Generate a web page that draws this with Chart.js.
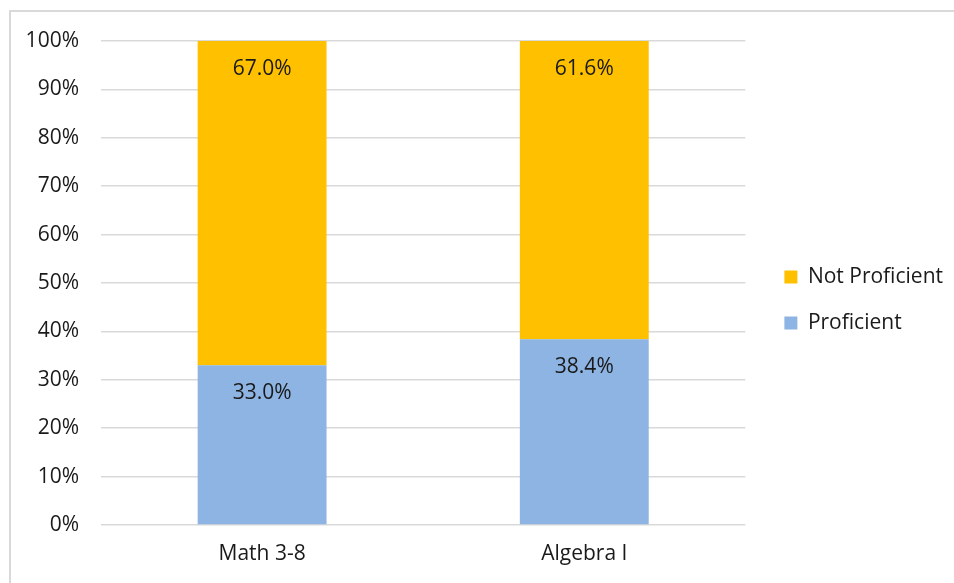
<!DOCTYPE html>
<html lang="en">
<head>
    <meta charset="UTF-8">
    <title>Proficiency</title>
    <script src="https://cdn.jsdelivr.net/npm/chart.js"></script>
    <style>
        html, body {
            margin: 0;
            padding: 0;
            background: #fff;
            overflow: hidden;
        }
        .wrap {
            position: relative;
            width: 954px;
            height: 583px;
        }
        .frame {
            position: absolute;
            left: 9px;
            top: 10px;
            width: 1000px;
            height: 700px;
            border-left: 2px solid #d9d9d9;
            border-top: 2px solid #d9d9d9;
            pointer-events: none;
        }
    </style>
</head>
<body>
<div class="wrap">
    <canvas id="chart" width="954" height="583"></canvas>
    <div class="frame"></div>
</div>

<script>
    // data
    const categories = ['Math 3-8', 'Algebra I'];
    const proficient = [33.0, 38.4];
    const notProficient = [67.0, 61.6];
    const yTicks = [0, 10, 20, 30, 40, 50, 60, 70, 80, 90, 100];

    const FONT = '"Open Sans", "Noto Sans", sans-serif';
    const TEXT = '#1a1a1a';
    const SIZE = 21;

    // labels inside each bar segment, near its top
    const barLabels = {
        id: 'barLabels',
        afterDatasetsDraw(chart) {
            const ctx = chart.ctx;
            ctx.save();
            ctx.font = SIZE + 'px ' + FONT;
            ctx.fillStyle = TEXT;
            ctx.textAlign = 'center';
            ctx.textBaseline = 'middle';
            chart.data.datasets.forEach((ds, i) => {
                chart.getDatasetMeta(i).data.forEach((bar, j) => {
                    ctx.fillText(ds.data[j].toFixed(1) + '%', bar.x, bar.y + 28);
                });
            });
            ctx.restore();
        }
    };

    // push the legend a bit right and up, like the original
    const legendNudge = {
        id: 'legendNudge',
        afterLayout(chart) {
            const lg = chart.legend;
            lg.left += 14; lg.right += 14;
            lg.top -= 12; lg.bottom -= 12;
        }
    };

    const chart = new Chart(document.getElementById('chart'), {
        type: 'bar',
        data: {
            labels: categories,
            datasets: [{
                label: 'Proficient',
                data: proficient,
                backgroundColor: '#8db4e2'
            }, {
                label: 'Not Proficient',
                data: notProficient,
                backgroundColor: '#ffc000'
            }]
        },
        options: {
            responsive: false,
            animation: false,
            events: [],
            layout: {
                padding: { top: 41, right: 15, bottom: 0, left: 0 }
            },
            datasets: {
                bar: { barPercentage: 0.4, categoryPercentage: 1.0 }
            },
            scales: {
                x: {
                    stacked: true,
                    grid: { display: false, drawTicks: false },
                    border: { display: false },
                    ticks: { color: TEXT, font: { family: FONT, size: SIZE }, padding: 16 },
                    afterFit(scale) { scale.height = 58; }
                },
                y: {
                    stacked: true,
                    min: 0,
                    max: 100,
                    afterBuildTicks(scale) { scale.ticks = yTicks.map(v => ({ value: v })); },
                    grid: { color: '#d9d9d9', lineWidth: 1.5, drawTicks: false },
                    border: { display: false },
                    ticks: {
                        color: TEXT,
                        font: { family: FONT, size: SIZE },
                        padding: 22,
                        callback: v => v + '%'
                    },
                    afterFit(scale) { scale.width = 101; }
                }
            },
            plugins: {
                legend: {
                    position: 'right',
                    reverse: true,
                    labels: {
                        color: TEXT,
                        font: { family: FONT, size: SIZE },
                        boxWidth: 13,
                        boxHeight: 13,
                        padding: 25
                    }
                },
                tooltip: { enabled: false }
            }
        },
        plugins: [barLabels, legendNudge]
    });
</script>
</body>
</html>
